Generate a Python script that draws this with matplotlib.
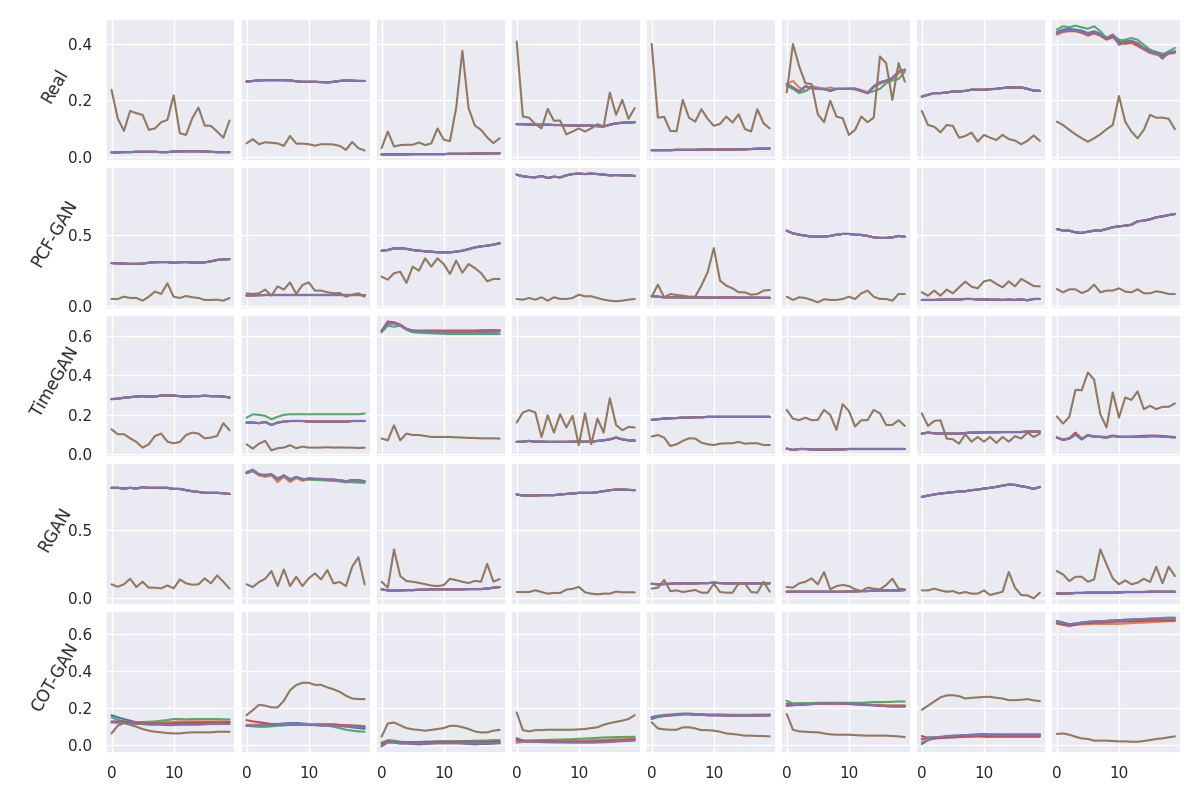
import matplotlib
matplotlib.use("Agg")
import matplotlib.pyplot as plt
import seaborn as sns

models = ["Real", "PCF-GAN", "TimeGAN", "RGAN", "COT-GAN"]
steps = list(range(20))
row_ticks = [[0.0, 0.2, 0.4], [0.0, 0.5], [0.0, 0.2, 0.4, 0.6], [0.0, 0.5], [0.0, 0.2, 0.4, 0.6]]
# colour index: 0 blue, 1 orange, 2 green, 3 red, 4 purple, 5 brown

# ---------------- Real ----------------
real_main = [
    [0.015,0.015,0.016,0.016,0.017,0.017,0.017,0.017,0.016,0.016,0.018,0.019,0.019,0.019,0.019,0.018,0.017,0.016,0.016,0.016],
    [0.266,0.268,0.270,0.271,0.271,0.271,0.271,0.270,0.267,0.265,0.265,0.265,0.264,0.263,0.265,0.268,0.270,0.269,0.268,0.268],
    [0.008,0.008,0.008,0.008,0.008,0.009,0.009,0.009,0.009,0.009,0.009,0.010,0.010,0.010,0.010,0.011,0.011,0.011,0.012,0.012],
    [0.115,0.115,0.114,0.113,0.113,0.113,0.112,0.112,0.111,0.110,0.110,0.110,0.110,0.108,0.107,0.113,0.118,0.120,0.121,0.122],
    [0.023,0.023,0.023,0.023,0.024,0.024,0.024,0.024,0.025,0.025,0.025,0.025,0.025,0.025,0.026,0.026,0.027,0.028,0.028,0.029],
    [0.257,0.245,0.231,0.249,0.243,0.240,0.240,0.233,0.240,0.240,0.240,0.240,0.233,0.225,0.249,0.263,0.269,0.278,0.302,0.308],
    [0.213,0.219,0.225,0.225,0.227,0.231,0.231,0.233,0.237,0.237,0.237,0.239,0.240,0.243,0.245,0.245,0.245,0.240,0.234,0.233],
    [0.438,0.446,0.446,0.447,0.441,0.436,0.441,0.432,0.420,0.432,0.396,0.405,0.410,0.402,0.382,0.373,0.367,0.347,0.367,0.373],
]
real_brown = [
    [0.237,0.136,0.091,0.162,0.154,0.148,0.095,0.100,0.122,0.130,0.217,0.083,0.077,0.136,0.174,0.110,0.109,0.089,0.067,0.128],
    [0.047,0.062,0.044,0.051,0.049,0.047,0.038,0.073,0.046,0.046,0.044,0.039,0.044,0.044,0.043,0.038,0.024,0.052,0.030,0.022],
    [0.030,0.089,0.036,0.041,0.042,0.042,0.050,0.041,0.047,0.100,0.060,0.055,0.172,0.375,0.172,0.110,0.095,0.068,0.048,0.065],
    [0.408,0.142,0.138,0.115,0.100,0.169,0.127,0.128,0.079,0.089,0.100,0.089,0.100,0.115,0.107,0.227,0.148,0.201,0.134,0.172],
    [0.399,0.138,0.141,0.091,0.090,0.201,0.138,0.124,0.168,0.134,0.109,0.116,0.142,0.121,0.150,0.098,0.089,0.168,0.118,0.100],
    [0.228,0.399,0.320,0.260,0.257,0.150,0.122,0.198,0.142,0.136,0.077,0.095,0.142,0.122,0.138,0.355,0.331,0.201,0.331,0.266],
    [0.162,0.112,0.106,0.086,0.112,0.109,0.067,0.073,0.085,0.053,0.077,0.067,0.059,0.077,0.062,0.057,0.044,0.056,0.075,0.056],
    [0.124,0.112,0.095,0.079,0.065,0.053,0.065,0.079,0.097,0.112,0.215,0.124,0.089,0.065,0.095,0.148,0.138,0.138,0.134,0.097],
]
real_alt = {
    (5, 1): [0.258,0.268,0.245,0.232,0.250,0.245,0.240,0.245,0.240,0.240,0.242,0.242,0.236,0.228,0.245,0.258,0.265,0.275,0.295,0.305],
    (5, 2): [0.250,0.240,0.225,0.232,0.245,0.240,0.238,0.235,0.240,0.240,0.240,0.238,0.232,0.225,0.232,0.240,0.260,0.270,0.275,0.300],
    (7, 0): [0.441,0.450,0.452,0.450,0.446,0.438,0.444,0.435,0.418,0.430,0.414,0.408,0.410,0.402,0.385,0.376,0.371,0.364,0.367,0.373],
    (7, 1): [0.432,0.441,0.444,0.444,0.438,0.428,0.436,0.428,0.414,0.422,0.402,0.399,0.402,0.391,0.379,0.367,0.361,0.355,0.364,0.367],
    (7, 2): [0.450,0.462,0.458,0.464,0.458,0.453,0.462,0.444,0.420,0.432,0.410,0.414,0.420,0.414,0.396,0.379,0.369,0.361,0.373,0.385],
    (7, 3): [0.436,0.444,0.446,0.445,0.440,0.432,0.438,0.430,0.416,0.425,0.405,0.402,0.405,0.395,0.382,0.370,0.364,0.357,0.366,0.370],
}

# ---------------- PCF-GAN ----------------
pcf_main = [
    [0.300,0.298,0.296,0.294,0.294,0.296,0.302,0.306,0.307,0.307,0.302,0.306,0.307,0.303,0.303,0.305,0.312,0.322,0.326,0.328],
    [0.072,0.073,0.074,0.075,0.075,0.075,0.075,0.075,0.075,0.075,0.075,0.075,0.075,0.075,0.075,0.075,0.075,0.075,0.075,0.074],
    [0.387,0.392,0.404,0.404,0.400,0.392,0.387,0.383,0.380,0.376,0.376,0.376,0.380,0.387,0.398,0.410,0.418,0.422,0.430,0.439],
    [0.923,0.911,0.906,0.904,0.913,0.899,0.908,0.904,0.918,0.927,0.930,0.927,0.930,0.927,0.923,0.918,0.920,0.918,0.918,0.913],
    [0.068,0.063,0.059,0.059,0.059,0.058,0.058,0.058,0.058,0.057,0.056,0.057,0.057,0.057,0.056,0.056,0.056,0.056,0.055,0.055],
    [0.528,0.509,0.500,0.493,0.486,0.486,0.486,0.491,0.500,0.505,0.505,0.500,0.498,0.491,0.481,0.477,0.477,0.481,0.491,0.486],
    [0.040,0.040,0.040,0.042,0.042,0.044,0.044,0.047,0.047,0.044,0.044,0.042,0.042,0.040,0.042,0.040,0.044,0.038,0.047,0.047],
    [0.540,0.528,0.528,0.516,0.512,0.521,0.528,0.528,0.540,0.552,0.559,0.563,0.570,0.594,0.599,0.608,0.622,0.629,0.638,0.646],
]
pcf_brown = [
    [0.047,0.047,0.063,0.054,0.054,0.035,0.063,0.099,0.082,0.157,0.063,0.054,0.068,0.059,0.054,0.040,0.040,0.042,0.035,0.054],
    [0.087,0.082,0.087,0.113,0.070,0.136,0.113,0.164,0.082,0.146,0.164,0.106,0.106,0.094,0.087,0.089,0.063,0.077,0.087,0.063],
    [0.204,0.183,0.228,0.239,0.160,0.275,0.246,0.333,0.275,0.333,0.293,0.223,0.317,0.232,0.293,0.265,0.230,0.171,0.188,0.188],
    [0.047,0.042,0.054,0.042,0.059,0.035,0.059,0.047,0.047,0.054,0.077,0.066,0.066,0.054,0.042,0.035,0.031,0.035,0.042,0.047],
    [0.063,0.148,0.059,0.082,0.075,0.070,0.063,0.063,0.141,0.235,0.406,0.176,0.141,0.122,0.094,0.094,0.077,0.082,0.106,0.110],
    [0.063,0.040,0.059,0.054,0.040,0.023,0.045,0.040,0.040,0.047,0.063,0.047,0.087,0.106,0.063,0.047,0.047,0.035,0.082,0.082],
    [0.094,0.070,0.106,0.070,0.113,0.087,0.129,0.169,0.134,0.122,0.171,0.181,0.153,0.129,0.171,0.136,0.188,0.164,0.138,0.136],
    [0.117,0.094,0.115,0.115,0.089,0.106,0.148,0.094,0.106,0.106,0.122,0.099,0.094,0.115,0.087,0.087,0.101,0.094,0.082,0.082],
]
pcf_alt = {}

# ---------------- TimeGAN ----------------
timegan_main = [
    [0.280,0.282,0.287,0.290,0.293,0.295,0.293,0.293,0.298,0.298,0.298,0.295,0.292,0.295,0.295,0.297,0.295,0.295,0.293,0.288],
    [0.161,0.161,0.158,0.164,0.149,0.161,0.166,0.169,0.169,0.169,0.166,0.166,0.166,0.166,0.166,0.166,0.166,0.169,0.169,0.169],
    [0.624,0.664,0.664,0.653,0.636,0.627,0.624,0.624,0.622,0.622,0.620,0.620,0.620,0.620,0.620,0.620,0.620,0.622,0.622,0.624],
    [0.063,0.064,0.068,0.064,0.064,0.063,0.063,0.063,0.063,0.064,0.064,0.064,0.064,0.068,0.071,0.076,0.085,0.076,0.071,0.070],
    [0.175,0.178,0.181,0.183,0.184,0.186,0.186,0.188,0.188,0.190,0.190,0.190,0.190,0.190,0.190,0.190,0.190,0.190,0.190,0.190],
    [0.029,0.022,0.027,0.027,0.025,0.024,0.024,0.024,0.025,0.025,0.027,0.027,0.027,0.027,0.027,0.027,0.027,0.027,0.027,0.027],
    [0.105,0.110,0.107,0.105,0.105,0.105,0.105,0.108,0.110,0.110,0.112,0.112,0.112,0.113,0.113,0.113,0.113,0.115,0.115,0.115],
    [0.085,0.073,0.080,0.100,0.076,0.098,0.090,0.088,0.085,0.093,0.088,0.088,0.088,0.088,0.088,0.092,0.092,0.090,0.088,0.086],
]
timegan_brown = [
    [0.127,0.102,0.102,0.081,0.063,0.034,0.051,0.093,0.105,0.064,0.056,0.063,0.098,0.110,0.105,0.081,0.085,0.093,0.158,0.122],
    [0.051,0.029,0.054,0.068,0.020,0.031,0.034,0.046,0.031,0.039,0.034,0.034,0.034,0.036,0.034,0.035,0.034,0.034,0.032,0.034],
    [0.080,0.071,0.147,0.071,0.105,0.098,0.098,0.093,0.088,0.088,0.088,0.088,0.086,0.085,0.083,0.083,0.081,0.081,0.081,0.080],
    [0.161,0.212,0.224,0.212,0.088,0.198,0.110,0.203,0.136,0.195,0.046,0.208,0.051,0.181,0.110,0.285,0.149,0.122,0.139,0.136],
    [0.090,0.098,0.085,0.042,0.051,0.068,0.081,0.080,0.059,0.051,0.047,0.054,0.056,0.056,0.063,0.054,0.056,0.056,0.047,0.047],
    [0.225,0.181,0.173,0.186,0.173,0.175,0.225,0.200,0.124,0.254,0.220,0.141,0.173,0.173,0.225,0.208,0.149,0.149,0.173,0.144],
    [0.208,0.144,0.169,0.173,0.080,0.076,0.054,0.102,0.064,0.088,0.064,0.088,0.058,0.088,0.064,0.092,0.080,0.110,0.088,0.105],
    [0.192,0.156,0.190,0.327,0.325,0.415,0.378,0.203,0.136,0.314,0.186,0.288,0.276,0.319,0.229,0.246,0.229,0.241,0.241,0.258],
]
timegan_alt = {
    (1, 2): [0.186,0.203,0.200,0.195,0.178,0.190,0.200,0.203,0.203,0.203,0.203,0.203,0.203,0.203,0.203,0.203,0.203,0.203,0.203,0.207],
    (2, 1): [0.627,0.673,0.669,0.658,0.636,0.627,0.627,0.627,0.627,0.627,0.627,0.627,0.627,0.627,0.627,0.627,0.628,0.629,0.629,0.629],
    (2, 2): [0.619,0.653,0.647,0.653,0.631,0.619,0.617,0.615,0.614,0.612,0.611,0.610,0.610,0.610,0.610,0.610,0.610,0.610,0.610,0.610],
    (2, 3): [0.627,0.673,0.669,0.658,0.636,0.627,0.627,0.627,0.627,0.627,0.627,0.627,0.627,0.627,0.627,0.627,0.628,0.629,0.629,0.629],
    (7, 3): [0.085,0.075,0.082,0.110,0.080,0.095,0.088,0.090,0.088,0.095,0.090,0.090,0.090,0.092,0.094,0.095,0.095,0.093,0.090,0.088],
}

# ---------------- RGAN ----------------
rgan_main = [
    [0.813,0.813,0.808,0.813,0.808,0.818,0.813,0.813,0.813,0.813,0.805,0.805,0.796,0.788,0.783,0.776,0.776,0.776,0.773,0.768],
    [0.924,0.943,0.911,0.904,0.911,0.874,0.904,0.869,0.894,0.874,0.882,0.879,0.879,0.874,0.874,0.869,0.862,0.869,0.869,0.862],
    [0.062,0.054,0.054,0.054,0.056,0.056,0.059,0.059,0.062,0.062,0.062,0.062,0.062,0.062,0.064,0.064,0.064,0.067,0.074,0.079],
    [0.764,0.756,0.756,0.756,0.759,0.759,0.759,0.764,0.768,0.771,0.776,0.776,0.776,0.781,0.788,0.796,0.800,0.800,0.798,0.796],
    [0.103,0.099,0.101,0.103,0.106,0.106,0.106,0.106,0.108,0.108,0.111,0.108,0.106,0.106,0.106,0.106,0.106,0.106,0.106,0.106],
    [0.044,0.044,0.044,0.044,0.044,0.044,0.044,0.044,0.044,0.044,0.047,0.047,0.049,0.049,0.052,0.054,0.054,0.054,0.054,0.057],
    [0.746,0.756,0.764,0.771,0.776,0.781,0.786,0.788,0.796,0.800,0.808,0.813,0.820,0.830,0.837,0.835,0.825,0.818,0.805,0.820],
    [0.032,0.030,0.032,0.035,0.035,0.037,0.037,0.037,0.037,0.037,0.039,0.042,0.042,0.042,0.042,0.044,0.044,0.044,0.044,0.044],
]
rgan_brown = [
    [0.099,0.081,0.099,0.140,0.079,0.118,0.074,0.074,0.069,0.091,0.069,0.135,0.106,0.096,0.099,0.143,0.106,0.165,0.118,0.067],
    [0.099,0.079,0.116,0.140,0.197,0.086,0.209,0.086,0.155,0.086,0.143,0.180,0.135,0.204,0.106,0.116,0.086,0.229,0.300,0.099],
    [0.118,0.074,0.357,0.160,0.123,0.118,0.110,0.100,0.090,0.086,0.093,0.140,0.130,0.118,0.108,0.125,0.118,0.250,0.118,0.138],
    [0.042,0.042,0.042,0.055,0.042,0.030,0.035,0.035,0.060,0.065,0.080,0.040,0.030,0.025,0.030,0.030,0.045,0.040,0.040,0.040],
    [0.067,0.074,0.131,0.049,0.054,0.042,0.049,0.057,0.037,0.037,0.103,0.042,0.037,0.037,0.106,0.106,0.042,0.037,0.118,0.044],
    [0.079,0.074,0.106,0.118,0.143,0.099,0.190,0.062,0.086,0.094,0.086,0.062,0.049,0.074,0.067,0.062,0.094,0.140,0.067,0.062],
    [0.054,0.054,0.067,0.054,0.044,0.049,0.032,0.042,0.030,0.030,0.054,0.020,0.032,0.044,0.190,0.074,0.020,0.017,-0.005,0.037],
    [0.197,0.172,0.123,0.155,0.155,0.118,0.135,0.357,0.246,0.143,0.099,0.128,0.099,0.111,0.140,0.116,0.229,0.106,0.229,0.160],
]
rgan_alt = {
    (1, 1): [0.920,0.935,0.905,0.895,0.905,0.855,0.895,0.855,0.885,0.865,0.875,0.875,0.872,0.870,0.868,0.862,0.852,0.865,0.865,0.860],
    (1, 2): [0.930,0.948,0.915,0.910,0.915,0.885,0.905,0.880,0.890,0.880,0.875,0.872,0.870,0.868,0.865,0.862,0.858,0.855,0.852,0.850],
}

# ---------------- COT-GAN ----------------
cot_main = [
    [0.121,0.119,0.117,0.115,0.112,0.112,0.108,0.108,0.108,0.106,0.106,0.108,0.108,0.108,0.108,0.110,0.112,0.112,0.112,0.112],
    [0.103,0.104,0.106,0.108,0.108,0.108,0.108,0.108,0.108,0.108,0.106,0.106,0.104,0.104,0.103,0.101,0.099,0.097,0.096,0.094],
    [-0.005,0.011,0.011,0.007,0.007,0.007,0.007,0.007,0.007,0.007,0.007,0.007,0.007,0.007,0.007,0.007,0.007,0.007,0.007,0.007],
    [0.020,0.017,0.016,0.015,0.014,0.013,0.012,0.012,0.011,0.011,0.011,0.011,0.011,0.012,0.013,0.015,0.017,0.019,0.020,0.022],
    [0.148,0.153,0.157,0.160,0.162,0.166,0.166,0.162,0.162,0.160,0.160,0.160,0.159,0.157,0.157,0.157,0.157,0.159,0.159,0.160],
    [0.211,0.214,0.216,0.218,0.220,0.222,0.223,0.223,0.223,0.223,0.223,0.222,0.220,0.216,0.214,0.211,0.209,0.207,0.207,0.207],
    [0.031,0.036,0.040,0.043,0.047,0.049,0.050,0.052,0.052,0.054,0.054,0.054,0.052,0.052,0.052,0.052,0.052,0.052,0.052,0.052],
    [0.670,0.661,0.652,0.656,0.661,0.665,0.667,0.668,0.670,0.672,0.674,0.676,0.677,0.679,0.679,0.681,0.681,0.681,0.683,0.683],
]
cot_brown = [
    [0.061,0.103,0.117,0.108,0.097,0.085,0.076,0.070,0.067,0.063,0.061,0.061,0.065,0.067,0.067,0.067,0.067,0.070,0.070,0.070],
    [0.160,0.187,0.216,0.211,0.202,0.202,0.238,0.295,0.323,0.335,0.335,0.324,0.324,0.310,0.300,0.286,0.265,0.250,0.247,0.247],
    [0.043,0.115,0.120,0.105,0.090,0.083,0.080,0.076,0.080,0.085,0.090,0.102,0.102,0.095,0.085,0.072,0.066,0.067,0.076,0.080],
    [0.175,0.079,0.072,0.079,0.079,0.081,0.081,0.081,0.081,0.081,0.083,0.085,0.090,0.094,0.108,0.117,0.124,0.130,0.139,0.160],
    [0.121,0.088,0.083,0.081,0.081,0.094,0.094,0.088,0.079,0.079,0.076,0.070,0.061,0.058,0.054,0.049,0.049,0.047,0.047,0.045],
    [0.166,0.081,0.072,0.070,0.068,0.067,0.061,0.056,0.054,0.054,0.054,0.052,0.050,0.049,0.049,0.049,0.049,0.047,0.045,0.041],
    [0.189,0.211,0.234,0.256,0.267,0.268,0.263,0.250,0.254,0.256,0.259,0.259,0.254,0.250,0.241,0.241,0.243,0.247,0.240,0.236],
    [0.058,0.061,0.054,0.043,0.034,0.031,0.022,0.022,0.022,0.020,0.018,0.018,0.016,0.016,0.020,0.025,0.031,0.034,0.040,0.045],
]
cot_alt = {
    (0, 0): [0.160,0.148,0.139,0.130,0.121,0.117,0.115,0.115,0.115,0.115,0.115,0.117,0.117,0.117,0.117,0.117,0.117,0.119,0.119,0.119],
    (0, 1): [0.121,0.123,0.123,0.123,0.121,0.119,0.119,0.119,0.121,0.123,0.124,0.126,0.126,0.126,0.126,0.126,0.126,0.126,0.126,0.126],
    (0, 2): [0.148,0.135,0.126,0.121,0.121,0.123,0.124,0.126,0.130,0.133,0.139,0.139,0.137,0.139,0.139,0.139,0.139,0.139,0.137,0.137],
    (0, 3): [0.126,0.126,0.126,0.121,0.119,0.115,0.115,0.115,0.115,0.115,0.117,0.119,0.119,0.121,0.121,0.121,0.121,0.121,0.121,0.121],
    (1, 0): [0.103,0.106,0.108,0.112,0.112,0.112,0.115,0.117,0.117,0.115,0.112,0.108,0.104,0.104,0.104,0.103,0.099,0.094,0.090,0.086],
    (1, 1): [0.108,0.108,0.108,0.108,0.108,0.108,0.112,0.112,0.112,0.112,0.112,0.112,0.112,0.112,0.112,0.108,0.106,0.104,0.103,0.101],
    (1, 2): [0.103,0.099,0.097,0.097,0.099,0.103,0.104,0.108,0.112,0.110,0.108,0.106,0.106,0.103,0.097,0.090,0.081,0.076,0.072,0.070],
    (1, 3): [0.133,0.126,0.122,0.117,0.112,0.108,0.108,0.108,0.108,0.108,0.108,0.108,0.108,0.108,0.108,0.106,0.104,0.103,0.101,0.099],
    (2, 0): [-0.009,0.016,0.013,0.007,0.007,0.004,0.002,0.004,0.007,0.009,0.013,0.013,0.013,0.007,0.004,0.002,0.004,0.004,0.007,0.011],
    (2, 1): [0.014,0.022,0.018,0.014,0.014,0.014,0.014,0.016,0.016,0.016,0.016,0.016,0.016,0.016,0.016,0.016,0.016,0.016,0.016,0.016],
    (2, 2): [0.007,0.025,0.022,0.016,0.014,0.014,0.014,0.016,0.016,0.018,0.018,0.018,0.018,0.020,0.020,0.022,0.022,0.023,0.025,0.025],
    (2, 3): [0.004,0.018,0.014,0.013,0.013,0.014,0.014,0.014,0.014,0.016,0.016,0.016,0.016,0.016,0.016,0.016,0.016,0.016,0.016,0.016],
    (3, 0): [0.035,0.022,0.020,0.020,0.020,0.020,0.018,0.016,0.015,0.015,0.015,0.015,0.015,0.015,0.016,0.018,0.020,0.022,0.025,0.028],
    (3, 1): [0.010,0.015,0.018,0.020,0.020,0.020,0.020,0.020,0.020,0.022,0.022,0.022,0.024,0.025,0.026,0.028,0.030,0.030,0.032,0.033],
    (3, 2): [0.020,0.022,0.023,0.024,0.025,0.026,0.027,0.028,0.029,0.030,0.032,0.033,0.035,0.037,0.039,0.040,0.041,0.042,0.042,0.043],
    (3, 3): [0.030,0.020,0.018,0.018,0.018,0.018,0.018,0.017,0.017,0.017,0.017,0.017,0.018,0.019,0.020,0.022,0.023,0.025,0.027,0.030],
    (4, 0): [0.139,0.150,0.155,0.158,0.160,0.164,0.164,0.162,0.161,0.160,0.159,0.158,0.157,0.156,0.156,0.156,0.156,0.157,0.157,0.158],
    (4, 2): [0.150,0.157,0.161,0.164,0.166,0.169,0.169,0.166,0.166,0.164,0.164,0.164,0.163,0.162,0.162,0.162,0.162,0.163,0.163,0.164],
    (5, 1): [0.220,0.216,0.220,0.220,0.222,0.222,0.222,0.222,0.222,0.222,0.222,0.220,0.218,0.218,0.216,0.216,0.214,0.214,0.214,0.214],
    (5, 2): [0.238,0.223,0.225,0.225,0.225,0.227,0.227,0.227,0.227,0.227,0.227,0.227,0.227,0.229,0.231,0.231,0.231,0.232,0.234,0.234],
    (5, 3): [0.223,0.216,0.216,0.218,0.220,0.222,0.223,0.223,0.222,0.222,0.220,0.218,0.216,0.214,0.213,0.211,0.209,0.209,0.209,0.209],
    (6, 0): [0.004,0.025,0.034,0.040,0.043,0.047,0.049,0.052,0.054,0.056,0.058,0.056,0.056,0.056,0.056,0.056,0.056,0.056,0.056,0.056],
    (6, 1): [0.016,0.031,0.036,0.040,0.043,0.045,0.047,0.049,0.050,0.052,0.054,0.054,0.054,0.056,0.058,0.058,0.058,0.058,0.058,0.058],
    (6, 2): [0.031,0.040,0.040,0.040,0.040,0.040,0.043,0.047,0.049,0.050,0.052,0.052,0.052,0.052,0.052,0.052,0.052,0.052,0.052,0.052],
    (6, 3): [0.047,0.036,0.034,0.036,0.038,0.040,0.041,0.043,0.043,0.045,0.043,0.043,0.043,0.043,0.043,0.043,0.043,0.043,0.043,0.043],
    (7, 1): [0.660,0.652,0.647,0.649,0.652,0.652,0.654,0.654,0.654,0.654,0.654,0.656,0.658,0.660,0.661,0.663,0.665,0.667,0.668,0.670],
    (7, 2): [0.667,0.656,0.649,0.652,0.658,0.661,0.665,0.668,0.670,0.672,0.674,0.676,0.677,0.679,0.681,0.683,0.685,0.686,0.688,0.688],
    (7, 3): [0.656,0.649,0.643,0.649,0.656,0.658,0.660,0.661,0.663,0.665,0.667,0.667,0.668,0.670,0.670,0.672,0.672,0.672,0.672,0.672],
}

rows = [
    (real_main, real_brown, real_alt),
    (pcf_main, pcf_brown, pcf_alt),
    (timegan_main, timegan_brown, timegan_alt),
    (rgan_main, rgan_brown, rgan_alt),
    (cot_main, cot_brown, cot_alt),
]

sns.set_theme(style="darkgrid")
palette = sns.color_palette("deep")

fig = plt.figure(figsize=(12, 8), dpi=100)
axes = fig.subplots(5, 8, sharex=True, sharey="row")
fig.subplots_adjust(left=0.088, right=0.984, top=0.976, bottom=0.059,
                    wspace=0.04, hspace=0.045)

for r, (main, brown, alt) in enumerate(rows):
    for c in range(8):
        ax = axes[r, c]
        for k in range(5):
            y = alt.get((c, k), main[c])
            ax.plot(steps, y, color=palette[k], lw=1.5)
        ax.plot(steps, brown[c], color=palette[5], lw=1.5)
    axes[r, 0].set_yticks(row_ticks[r])
    axes[r, 0].set_ylabel(models[r], rotation=60, fontsize=12)

axes[0, 0].set_xticks([0, 10])

fig.savefig("out.png", dpi=100)
